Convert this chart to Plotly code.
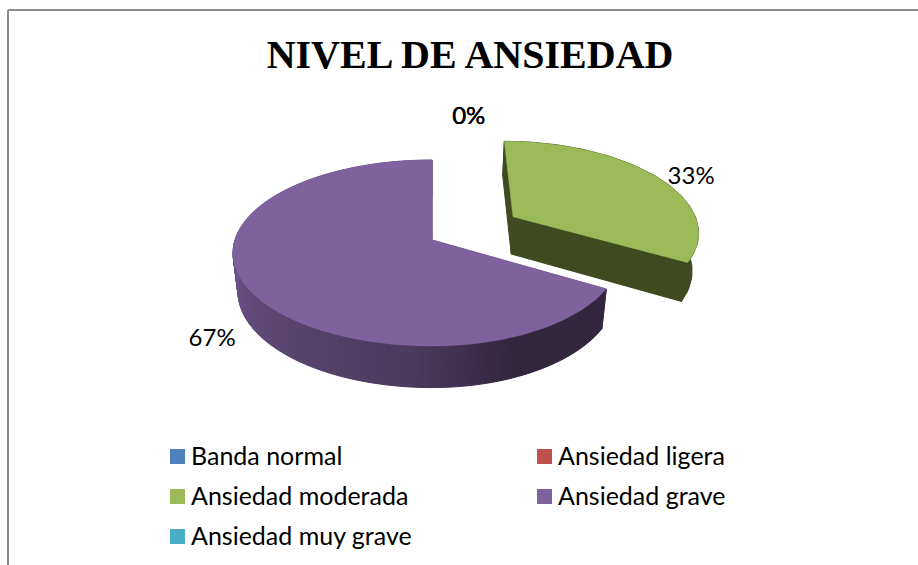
import numpy as np
import plotly.graph_objects as go

# ---- data ----
title_text = "NIVEL DE ANSIEDAD"
categories = ["Banda normal", "Ansiedad ligera", "Ansiedad moderada", "Ansiedad grave", "Ansiedad muy grave"]
values = [0, 0, 1, 2, 0]
colors = ["#4F81BD", "#C0504D", "#9BBB59", "#7F619E", "#4BACC6"]

# ---- projection of the tilted pie onto the page (pixels) ----
CX, CY = 432.0, 240.0
A, B, P = 197.0, 91.2, 0.14
DEPTH, BOTTOM_SCALE = 38.0, 0.975
EXPLODE = {"Ansiedad moderada": 0.46}
# x squeeze about a pivot and y shift applied per slice: (factor, pivot, dy, only right of pivot)
ADJUST = {"Ansiedad moderada": (0.955, 619.0, -3.0, False), "Ansiedad grave": (0.95, CX, 0.0, True)}
SIDE_STOPS = [(118, "#32263F"), (158, "#33263F"), (185, "#4A3A5E"), (225, "#5A4670"), (275, "#6E5690"), (361, "#6E5690")]
LABEL_PLACE = {"Ansiedad moderada": (62.5, 1.64, 0), "Ansiedad grave": (240, 1.21, 1)}
ZERO_PLACE = (7.9, 1.67, 0)
LEGEND_X = [170, 537]
LEGEND_Y = [456.5, 496.5, 536.5]


def project(u, w, level=0.0):
    """u: right, w: back, level: 0 on top face, 1 on bottom face."""
    d = 1 + P * w
    x = A * u / d
    y = -B * w / d
    s = 1 + (BOTTOM_SCALE - 1) * level
    return CX + x * s, CY + y * s + level * DEPTH / d


def rim(theta_deg, offset=(0.0, 0.0), r=1.0):
    t = np.radians(theta_deg)
    return r * np.sin(t) + offset[0], r * np.cos(t) + offset[1]


def hex2rgb(h):
    return np.array([int(h[i:i + 2], 16) for i in (1, 3, 5)], float)


def side_color(theta):
    ts = [s[0] for s in SIDE_STOPS]
    for a, b, ca, cb in zip(ts, ts[1:], SIDE_STOPS, SIDE_STOPS[1:]):
        if a <= theta <= b:
            f = (theta - a) / (b - a)
            c = hex2rgb(ca[1]) * (1 - f) + hex2rgb(cb[1]) * f
            return "rgb(%d,%d,%d)" % tuple(c)
    return SIDE_STOPS[-1][1]


def poly(fig, pts, color, name, lw=1.0):
    f, pivot, dy, right_only = ADJUST.get(name, (1.0, 0.0, 0.0, False))
    xs, ys = [], []
    for x, y in pts:
        if not right_only or x > pivot:
            x = pivot + (x - pivot) * f
        xs.append(x)
        ys.append(y + dy)
    fig.add_trace(go.Scatter(x=xs, y=ys, mode="lines", fill="toself", fillcolor=color,
                             line=dict(color=color, width=lw), hoverinfo="skip", showlegend=False))


fig = go.Figure()
total = sum(values)
start = 0.0
spans = []
for name, v, col in zip(categories, values, colors):
    sweep = 360.0 * v / total
    spans.append((name, v, col, start, start + sweep))
    start += sweep

for name, v, col, a0, a1 in reversed(spans):
    if v == 0:
        continue
    e = EXPLODE.get(name, 0.0)
    mid = np.radians((a0 + a1) / 2)
    off = (e * np.sin(mid), e * np.cos(mid))
    side = "#3F4A20" if e else None
    thetas = np.linspace(a0, a1, 241 if not e else 61)

    # radial faces and outer wall
    for edge in (a0, a1):
        u, w = rim(edge, off)
        p = [project(off[0], off[1]), project(u, w), project(u, w, 1), project(off[0], off[1], 1)]
        poly(fig, p + [p[0]], side or side_color(300), name)
    step = 1 if not e else 60
    for i in range(0, len(thetas) - 1, step):
        seg = thetas[i:i + step + 1]
        uw = [rim(t, off) for t in seg]
        top = [project(u, w) for u, w in uw]
        bot = [project(u, w, 1) for u, w in uw][::-1]
        poly(fig, top + bot + [top[0]], side or side_color(float(np.mean(seg))), name)

    # top face
    uw = [rim(t, off) for t in thetas]
    apex = project(off[0], off[1])
    poly(fig, [apex] + [project(u, w) for u, w in uw] + [apex], col, name, lw=0.5)

# data labels
for name, v, col, a0, a1 in spans:
    th, r, lev = LABEL_PLACE.get(name, ZERO_PLACE)
    lx, ly = project(*rim(th, r=r), lev)
    fig.add_trace(go.Scatter(x=[lx], y=[ly], mode="text", text=["%d%%" % round(100 * v / total)],
                             textposition="middle center", hoverinfo="skip", showlegend=False,
                             textfont=dict(family="Lato", size=24, color="#000000")))

# legend
for i, (name, col) in enumerate(zip(categories, colors)):
    lx, ly = LEGEND_X[i % 2], LEGEND_Y[i // 2]
    fig.add_trace(go.Scatter(x=[lx + 7.5], y=[ly], mode="markers", name=name,
                             marker=dict(symbol="square", size=15, color=col),
                             hoverinfo="skip", showlegend=False))
    fig.add_trace(go.Scatter(x=[lx + 21], y=[ly + 2.5], mode="text", text=[name], textposition="middle right",
                             textfont=dict(family="Lato", size=25, color="#000000"),
                             hoverinfo="skip", showlegend=False))

fig.update_layout(
    width=918, height=565, margin=dict(l=0, r=0, t=0, b=0),
    paper_bgcolor="#FFFFFF", plot_bgcolor="#FFFFFF", showlegend=False,
    title=dict(text="<b>%s</b>" % title_text, x=0.512, xanchor="center", y=0.905, yanchor="middle",
               font=dict(family="Liberation Serif", size=40, color="#000000")),
    xaxis=dict(range=[0, 918], visible=False, fixedrange=True),
    yaxis=dict(range=[565, 0], visible=False, fixedrange=True),
    shapes=[
        dict(type="line", xref="x", yref="y", x0=8, x1=8, y0=10, y1=565, line=dict(color="#8C8C8C", width=2)),
        dict(type="line", xref="x", yref="y", x0=8, x1=918, y0=10, y1=10, line=dict(color="#8C8C8C", width=2)),
    ],
)
fig.write_html("out.html", config=dict(displayModeBar=False),
               post_script="document.body.style.margin='0';document.body.style.overflow='hidden';")
